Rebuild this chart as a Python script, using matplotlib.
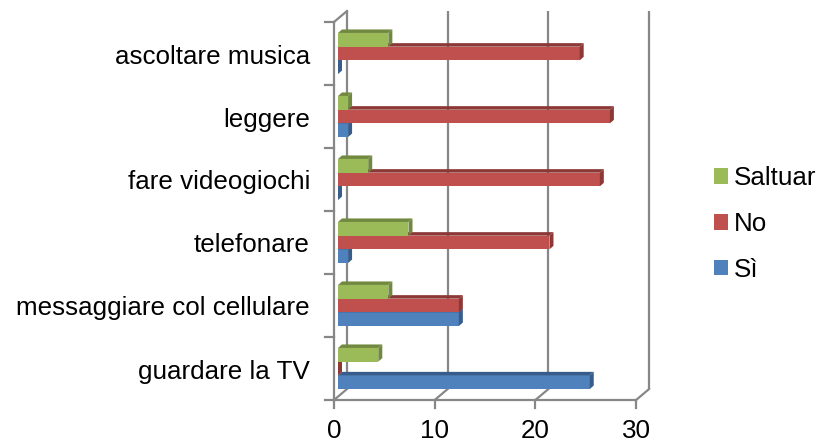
import matplotlib
matplotlib.use("Agg")
import matplotlib.pyplot as plt
from matplotlib.patches import Polygon, Patch

plt.rcParams['font.family'] = ['Liberation Sans', 'DejaVu Sans']

categories = ['guardare la TV', 'messaggiare col cellulare', 'telefonare',
              'fare videogiochi', 'leggere', 'ascoltare musica']
si = [25, 12, 1, 0, 1, 0]
no = [0, 12, 21, 26, 27, 24]
saltuar = [4, 5, 7, 3, 1, 5]
series = [('Sì', si, '#4F81BD', '#385D8A'),
          ('No', no, '#C0504D', '#8C3836'),
          ('Saltuar', saltuar, '#9BBB59', '#71893F')]
xticks = [0, 10, 20, 30]

W, H = 819, 443
fig = plt.figure(figsize=(W / 100, H / 100), dpi=100)
ax = fig.add_axes([0, 0, 1, 1])
ax.axis('off')

# pixel mapping: value 0 at x=338 px, 10.07 px per unit; category 0 at y=400 px, 63 px per unit
PX, PY = 10.07, 63.0
X0, Y0 = 338, 400
ax.set_xlim((0 - X0) / PX, (W - X0) / PX)
ax.set_ylim((Y0 - H) / PY, Y0 / PY)

xf = (334 - X0) / PX          # front plane
DX, DY = 13 / PX, 11 / PY     # wall depth
xb = xf + DX
bdx, bdy = 4 / PX, 3.5 / PY   # bar depth
n = len(categories)
gc = '#878787'
lw = 1.6
fs = 18.7

# back wall gridlines and floor diagonals
for t in xticks:
    ax.plot([xb + t, xb + t], [DY, n + DY], color=gc, lw=lw, zorder=1, solid_capstyle='butt')
    ax.plot([xf + t, xb + t], [0, DY], color=gc, lw=lw, zorder=1)
    ax.plot([xf + t, xf + t], [0, -8 / PY], color=gc, lw=lw, zorder=1)
    ax.text(xf + t, -38 / PY, str(t), ha='center', va='baseline', fontsize=fs)
ax.plot([xf, xf + xticks[-1]], [0, 0], color=gc, lw=lw, zorder=1)
ax.plot([xf, xf], [0, n], color=gc, lw=lw, zorder=1)
ax.plot([xf, xb], [n, n + DY], color=gc, lw=lw, zorder=1)
for i in range(n + 1):
    ax.plot([xf - 9 / PX, xf], [i, i], color=gc, lw=lw, zorder=1)

# bars
h = 13.7 / PY
z = 2
for k, (name, vals, col, dark) in enumerate(series):
    for i, v in enumerate(vals):
        y0 = i + 0.5 + (k - 1.5) * h
        y1 = y0 + h
        ax.barh(y0, v, height=h, left=0, align='edge', color=col,
                edgecolor='none', zorder=z + k)
        top = Polygon([(0, y1), (v, y1), (v + bdx, y1 + bdy), (bdx, y1 + bdy)],
                      closed=True, facecolor=dark, edgecolor='none', zorder=z + k)
        side = Polygon([(v, y0), (v + bdx, y0 + bdy), (v + bdx, y1 + bdy), (v, y1)],
                       closed=True, facecolor=dark, edgecolor='none', zorder=z + k)
        ax.add_patch(top)
        ax.add_patch(side)

# category labels
for i, c in enumerate(categories):
    ax.text((310 - X0) / PX, i + 0.5 - 10 / PY, c, ha='right', va='baseline', fontsize=fs)

handles = [Patch(facecolor=col, edgecolor='none') for _, _, col, _ in series][::-1]
labels = [s[0] for s in series][::-1]
ax.legend(handles, labels, loc='center left', bbox_to_anchor=(714 / W, 1 - 224 / H),
          frameon=False, fontsize=fs, handlelength=0.55, handleheight=0.55,
          handletextpad=0.2, labelspacing=0.83, borderpad=0, borderaxespad=0)

fig.savefig('out.png', dpi=100)
